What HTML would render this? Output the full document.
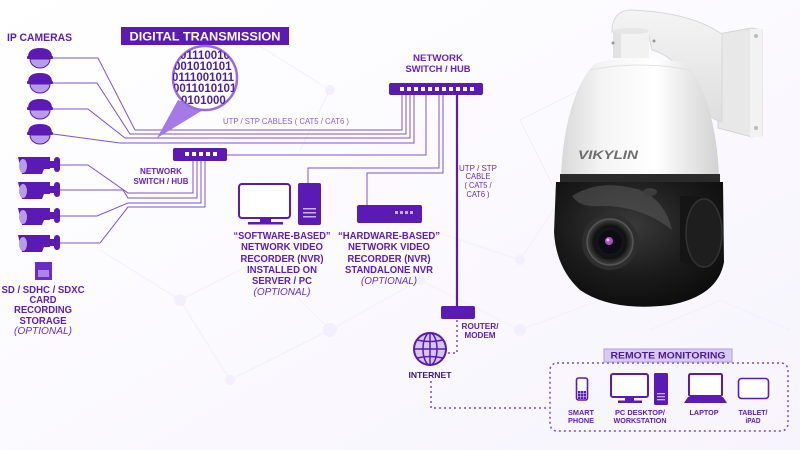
<!DOCTYPE html>
<html><head><meta charset="utf-8"><style>
html,body{margin:0;padding:0;background:#fff;}
svg{display:block;}
text{font-family:"Liberation Sans",Arial,sans-serif;}
</style></head><body>
<svg width="800" height="450" viewBox="0 0 800 450" xmlns="http://www.w3.org/2000/svg">
<defs>
<linearGradient id="domeG" x1="0" x2="1" y1="0" y2="0">
<stop offset="0" stop-color="#d8d8d8"/><stop offset="0.25" stop-color="#f4f4f4"/><stop offset="0.6" stop-color="#ffffff"/><stop offset="1" stop-color="#d2d2d2"/>
</linearGradient>
<linearGradient id="armG" x1="0" x2="0" y1="0" y2="1">
<stop offset="0" stop-color="#f4f4f4"/><stop offset="1" stop-color="#dedede"/>
</linearGradient>
<radialGradient id="blackG" cx="0.45" cy="0.35" r="0.7">
<stop offset="0" stop-color="#3a3a3a"/><stop offset="0.6" stop-color="#1a1a1a"/><stop offset="1" stop-color="#0c0c0c"/>
</radialGradient>
<radialGradient id="lensG" cx="0.5" cy="0.5" r="0.5">
<stop offset="0" stop-color="#2a2a3a"/><stop offset="0.7" stop-color="#111"/><stop offset="1" stop-color="#444"/>
</radialGradient>
<linearGradient id="bgG" x1="0" x2="1" y1="0" y2="1">
<stop offset="0" stop-color="#ffffff"/><stop offset="1" stop-color="#f7f4fd"/>
</linearGradient>
<clipPath id="magClip"><circle cx="205" cy="78" r="32"/></clipPath>
</defs>

<rect width="800" height="450" fill="url(#bgG)"/>
<!-- faint background network -->
<g stroke="#f4effc" stroke-width="1" fill="none">
<path d="M180 300 L260 260 L330 330 L420 280 L520 330 L600 300"/>
<path d="M100 250 L180 300 L230 380 L330 330"/>
<path d="M430 230 L520 260 L560 200 L520 120 L600 80"/>
<path d="M250 40 L330 90 L300 150"/>
<path d="M650 330 L720 300 L790 330"/>
</g>
<g fill="#f4effc">
<circle cx="180" cy="300" r="6"/><circle cx="260" cy="260" r="5"/><circle cx="330" cy="330" r="7"/><circle cx="420" cy="280" r="5"/><circle cx="520" cy="330" r="6"/><circle cx="230" cy="380" r="5"/><circle cx="520" cy="260" r="5"/><circle cx="330" cy="90" r="5"/>
</g>

<!-- cables -->
<g stroke="#7d55cc" stroke-width="1" fill="none">
<polyline points="53,58 98,58 135,130 402,130 402,95"/>
<polyline points="53,83 97,83 130,134 406,134 406,95"/>
<polyline points="53,109 88,109 125,138 410,138 410,95"/>
<polyline points="53,134 120,143 414,143 414,95"/>
<polyline points="227,155 426,155 426,95"/>
<polyline points="439,95 439,168 308,168 308,183"/>
<polyline points="443,95 443,173 367,173 367,205"/>
<polyline points="60,165 88,165 128,193 193,193 193,161"/>
<polyline points="60,190 123,190 128,198 197,198 197,161"/>
<polyline points="60,216 97,216 128,203 201,203 201,161"/>
<polyline points="60,243 100,243 128,207 205,207 205,161"/>
</g>
<line x1="457" y1="95" x2="457" y2="306" stroke="#5a1ab3" stroke-width="2.2"/>

<!-- dotted links -->
<g stroke="#7a4ad0" stroke-width="1.5" fill="none" stroke-dasharray="2,3">
<polyline points="457,320 457,353 448,353"/>
<polyline points="431,381 431,408 548,408"/>
<rect x="550" y="363" width="238" height="68" rx="7"/>
</g>

<!-- IP CAMERAS -->
<text x="7" y="41" font-size="11" font-weight="bold" fill="#5b1db5" textLength="65" lengthAdjust="spacingAndGlyphs">IP CAMERAS</text>

<!-- dome cameras -->
<g>
<g transform="translate(0,0)">
<path d="M28,57 Q28,48 40,48 Q52,48 52,57 Z" fill="#5a1ab3"/><rect x="27" y="56" width="26" height="3" rx="1" fill="#5a1ab3"/>
<path d="M30,59 A10,9 0 0 0 50,59 Z" fill="#b89ce9" stroke="#5a1ab3" stroke-width="1"/>
</g>
<g transform="translate(0,25)">
<path d="M28,57 Q28,48 40,48 Q52,48 52,57 Z" fill="#5a1ab3"/><rect x="27" y="56" width="26" height="3" rx="1" fill="#5a1ab3"/>
<path d="M30,59 A10,9 0 0 0 50,59 Z" fill="#b89ce9" stroke="#5a1ab3" stroke-width="1"/>
</g>
<g transform="translate(0,51)">
<path d="M28,57 Q28,48 40,48 Q52,48 52,57 Z" fill="#5a1ab3"/><rect x="27" y="56" width="26" height="3" rx="1" fill="#5a1ab3"/>
<path d="M30,59 A10,9 0 0 0 50,59 Z" fill="#b89ce9" stroke="#5a1ab3" stroke-width="1"/>
</g>
<g transform="translate(0,76)">
<path d="M28,57 Q28,48 40,48 Q52,48 52,57 Z" fill="#5a1ab3"/><rect x="27" y="56" width="26" height="3" rx="1" fill="#5a1ab3"/>
<path d="M30,59 A10,9 0 0 0 50,59 Z" fill="#b89ce9" stroke="#5a1ab3" stroke-width="1"/>
</g>
</g>

<!-- bullet cameras -->
<g fill="#5a1ab3">
<g transform="translate(0,0)">
<path d="M18,157 L50,157 L50,169 L44,169 L42,174 L22,174 Z"/>
<ellipse cx="23" cy="166" rx="4" ry="7" fill="#b89ce9"/>
<rect x="49" y="161" width="6" height="7"/>
<rect x="54" y="157" width="6" height="15" rx="3"/>
</g>
<g transform="translate(0,25)">
<path d="M18,157 L50,157 L50,169 L44,169 L42,174 L22,174 Z"/>
<ellipse cx="23" cy="166" rx="4" ry="7" fill="#b89ce9"/>
<rect x="49" y="161" width="6" height="7"/>
<rect x="54" y="157" width="6" height="15" rx="3"/>
</g>
<g transform="translate(0,51)">
<path d="M18,157 L50,157 L50,169 L44,169 L42,174 L22,174 Z"/>
<ellipse cx="23" cy="166" rx="4" ry="7" fill="#b89ce9"/>
<rect x="49" y="161" width="6" height="7"/>
<rect x="54" y="157" width="6" height="15" rx="3"/>
</g>
<g transform="translate(0,78)">
<path d="M18,157 L50,157 L50,169 L44,169 L42,174 L22,174 Z"/>
<ellipse cx="23" cy="166" rx="4" ry="7" fill="#b89ce9"/>
<rect x="49" y="161" width="6" height="7"/>
<rect x="54" y="157" width="6" height="15" rx="3"/>
</g>
</g>

<!-- SD card -->
<path d="M35,262 L52,262 L52,280 L35,280 Z" fill="#6a2cc4"/>
<rect x="38" y="270" width="11" height="7" fill="#a987e6"/>
<g font-size="10" font-weight="bold" fill="#5b1db5" text-anchor="middle" lengthAdjust="spacingAndGlyphs">
<text x="43" y="293" textLength="83" lengthAdjust="spacingAndGlyphs">SD / SDHC / SDXC</text>
<text x="43" y="303" textLength="27" lengthAdjust="spacingAndGlyphs">CARD</text>
<text x="43" y="313" textLength="58" lengthAdjust="spacingAndGlyphs">RECORDING</text>
<text x="43" y="324" textLength="47" lengthAdjust="spacingAndGlyphs">STORAGE</text>
<text x="43" y="334" font-style="italic" font-weight="normal" fill="#6a2cc4" textLength="58" lengthAdjust="spacingAndGlyphs">(OPTIONAL)</text>
</g>

<!-- Digital transmission banner -->
<rect x="121" y="27" width="168" height="18" fill="#5a1ab3"/>
<text x="205" y="40.5" font-size="12" font-weight="bold" fill="#fff" text-anchor="middle" textLength="151" lengthAdjust="spacingAndGlyphs">DIGITAL TRANSMISSION</text>

<!-- magnifier -->
<path d="M178,100 L203,110 L157,138 Z" fill="#a57ae6"/>
<circle cx="205" cy="78" r="32" fill="#fff" stroke="#9a6ae0" stroke-width="2.5"/>
<g clip-path="url(#magClip)" font-size="11.5" font-weight="bold" fill="#4b1fa0">
<text x="180" y="59">01110010</text>
<text x="174" y="70">001010101</text>
<text x="172" y="81">0111001011</text>
<text x="173" y="92">0011010101</text>
<text x="181" y="104">0101000</text>
</g>

<!-- UTP label -->
<text x="286" y="124" font-size="8.5" fill="#8a60d8" text-anchor="middle" textLength="126" lengthAdjust="spacingAndGlyphs">UTP / STP CABLES ( CAT5 / CAT6 )</text>

<!-- small switch -->
<rect x="173" y="148" width="54" height="13" rx="2" fill="#5a1ab3"/>
<g fill="#fff"><rect x="185" y="152" width="4" height="4"/><rect x="192" y="152" width="4" height="4"/><rect x="199" y="152" width="4" height="4"/><rect x="206" y="152" width="4" height="4"/><rect x="213" y="152" width="4" height="4"/></g>
<g font-size="8.5" font-weight="bold" fill="#6a22c4" text-anchor="middle">
<text x="161" y="174" textLength="42" lengthAdjust="spacingAndGlyphs">NETWORK</text>
<text x="161" y="184" textLength="55" lengthAdjust="spacingAndGlyphs">SWITCH / HUB</text>
</g>

<!-- top switch -->
<rect x="389" y="83" width="94" height="12" rx="2" fill="#5a1ab3"/>
<g fill="#fff">
<rect x="400" y="87" width="4" height="4"/><rect x="407" y="87" width="4" height="4"/><rect x="414" y="87" width="4" height="4"/><rect x="421" y="87" width="4" height="4"/><rect x="428" y="87" width="4" height="4"/><rect x="435" y="87" width="4" height="4"/><rect x="442" y="87" width="4" height="4"/><rect x="449" y="87" width="4" height="4"/><rect x="456" y="87" width="4" height="4"/><rect x="463" y="87" width="4" height="4"/><rect x="470" y="87" width="4" height="4"/>
</g>
<g font-size="9.5" font-weight="bold" fill="#6a22c4" text-anchor="middle">
<text x="438" y="61" textLength="50" lengthAdjust="spacingAndGlyphs">NETWORK</text>
<text x="438" y="72" textLength="65" lengthAdjust="spacingAndGlyphs">SWITCH / HUB</text>
</g>

<!-- vertical cable label -->
<g font-size="8" fill="#6a2cc4" text-anchor="middle">
<text x="478" y="171" textLength="38" lengthAdjust="spacingAndGlyphs">UTP / STP</text>
<text x="478" y="179" textLength="25" lengthAdjust="spacingAndGlyphs">CABLE</text>
<text x="478" y="188" textLength="27" lengthAdjust="spacingAndGlyphs">( CAT5 /</text>
<text x="478" y="197" textLength="23" lengthAdjust="spacingAndGlyphs">CAT6 )</text>
</g>

<!-- software NVR -->
<rect x="239" y="184" width="51" height="34" rx="3" fill="#fff" stroke="#5a1ab3" stroke-width="2"/>
<rect x="260" y="218" width="11" height="4" fill="#5a1ab3"/>
<rect x="248" y="222" width="35" height="2.5" fill="#5a1ab3"/>
<rect x="298" y="183" width="23" height="42" rx="2" fill="#5a1ab3"/>
<g fill="#c9b2f2"><rect x="303" y="208" width="13" height="1.5"/><rect x="303" y="212" width="13" height="1.5"/><rect x="303" y="216" width="13" height="1.5"/></g>
<g font-size="10" font-weight="bold" fill="#5b1db5" text-anchor="middle">
<text x="282" y="239" textLength="97" lengthAdjust="spacingAndGlyphs">“SOFTWARE-BASED”</text>
<text x="282" y="250" textLength="82" lengthAdjust="spacingAndGlyphs">NETWORK VIDEO</text>
<text x="282" y="262" textLength="83" lengthAdjust="spacingAndGlyphs">RECORDER (NVR)</text>
<text x="282" y="273" textLength="70" lengthAdjust="spacingAndGlyphs">INSTALLED ON</text>
<text x="282" y="284" textLength="60" lengthAdjust="spacingAndGlyphs">SERVER / PC</text>
<text x="282" y="295" font-style="italic" font-weight="normal" fill="#6a2cc4" textLength="57" lengthAdjust="spacingAndGlyphs">(OPTIONAL)</text>
</g>

<!-- hardware NVR -->
<rect x="357" y="205" width="65" height="18" rx="2" fill="#5a1ab3"/>
<g fill="#c9b2f2"><rect x="395" y="211" width="3" height="3"/><rect x="400" y="211" width="3" height="3"/><rect x="405" y="211" width="3" height="3"/><rect x="410" y="211" width="3" height="3"/></g>
<g font-size="10" font-weight="bold" fill="#5b1db5" text-anchor="middle">
<text x="389" y="239" textLength="102" lengthAdjust="spacingAndGlyphs">“HARDWARE-BASED”</text>
<text x="389" y="250" textLength="82" lengthAdjust="spacingAndGlyphs">NETWORK VIDEO</text>
<text x="389" y="262" textLength="83" lengthAdjust="spacingAndGlyphs">RECORDER (NVR)</text>
<text x="389" y="273" textLength="88" lengthAdjust="spacingAndGlyphs">STANDALONE NVR</text>
<text x="389" y="284" font-style="italic" font-weight="normal" fill="#6a2cc4" textLength="56" lengthAdjust="spacingAndGlyphs">(OPTIONAL)</text>
</g>

<!-- router -->
<rect x="441" y="306" width="34" height="13" rx="2" fill="#5a1ab3"/>
<g font-size="8" font-weight="bold" fill="#5b1db5" text-anchor="middle">
<text x="480" y="329" textLength="37" lengthAdjust="spacingAndGlyphs">ROUTER/</text>
<text x="480" y="338" textLength="31" lengthAdjust="spacingAndGlyphs">MODEM</text>
</g>

<!-- globe -->
<circle cx="430" cy="349" r="16" fill="#d6c6f6" stroke="#5a1ab3" stroke-width="2"/>
<g stroke="#5a1ab3" stroke-width="1.5" fill="none">
<ellipse cx="430" cy="349" rx="7" ry="16"/>
<line x1="430" y1="333" x2="430" y2="365"/>
<line x1="414" y1="349" x2="446" y2="349"/>
<path d="M417,340 Q430,343 443,340"/>
<path d="M417,358 Q430,355 443,358"/>
</g>
<text x="430" y="378" font-size="8.5" font-weight="bold" fill="#3a1a80" text-anchor="middle" textLength="43" lengthAdjust="spacingAndGlyphs">INTERNET</text>

<!-- remote monitoring -->
<rect x="604" y="349" width="128" height="13" fill="#d9c9f6" stroke="#b49ae8" stroke-width="1"/>
<text x="668" y="358.5" font-size="9.5" font-weight="bold" fill="#4a1a9a" text-anchor="middle" textLength="115" lengthAdjust="spacingAndGlyphs">REMOTE MONITORING</text>

<!-- smartphone -->
<rect x="576.5" y="378" width="11" height="22" rx="2" fill="#fff" stroke="#5a1ab3" stroke-width="1.6"/>
<rect x="578" y="391" width="8" height="8" fill="#5a1ab3"/>
<g stroke="#d6c6f6" stroke-width="0.6"><line x1="578" y1="393.7" x2="586" y2="393.7"/><line x1="578" y1="396.3" x2="586" y2="396.3"/><line x1="580.7" y1="391" x2="580.7" y2="399"/><line x1="583.3" y1="391" x2="583.3" y2="399"/></g>
<!-- pc -->
<rect x="611" y="374" width="37" height="23" rx="2" fill="#fff" stroke="#5a1ab3" stroke-width="2"/>
<rect x="625" y="397" width="9" height="3.5" fill="#5a1ab3"/>
<rect x="618" y="400.5" width="24" height="2.5" fill="#5a1ab3"/>
<rect x="654" y="373" width="14" height="32" rx="1.5" fill="#5a1ab3"/>
<g fill="#c9b2f2"><rect x="657" y="393" width="8" height="1.3"/><rect x="657" y="396" width="8" height="1.3"/><rect x="657" y="399" width="8" height="1.3"/></g>
<!-- laptop -->
<rect x="689" y="374" width="33" height="22" rx="1.5" fill="#fff" stroke="#5a1ab3" stroke-width="2"/>
<path d="M688,397 L723,397 L727,403 L684,403 Z" fill="#5a1ab3"/>
<!-- tablet -->
<rect x="738.5" y="378.5" width="30" height="20" rx="3" fill="#fff" stroke="#5a1ab3" stroke-width="1.6"/>

<g font-size="7.5" font-weight="bold" fill="#5b1db5" text-anchor="middle">
<text x="581" y="415" textLength="26" lengthAdjust="spacingAndGlyphs">SMART</text>
<text x="581" y="423" textLength="26" lengthAdjust="spacingAndGlyphs">PHONE</text>
<text x="640" y="415" textLength="50" lengthAdjust="spacingAndGlyphs">PC DESKTOP/</text>
<text x="640" y="423" textLength="53" lengthAdjust="spacingAndGlyphs">WORKSTATION</text>
<text x="704" y="415" textLength="29" lengthAdjust="spacingAndGlyphs">LAPTOP</text>
<text x="753" y="415" textLength="29" lengthAdjust="spacingAndGlyphs">TABLET/</text>
<text x="753" y="423" textLength="15" lengthAdjust="spacingAndGlyphs">iPAD</text>
</g>

<!-- PTZ camera -->
<!-- wall plate -->
<path d="M718,34 L752,28 L762,30 L762,135 L752,137 L718,128 Z" fill="#e8e8e8" stroke="#d4d4d4" stroke-width="1"/>
<rect x="750" y="29" width="12" height="108" fill="#f2f2f2"/>
<circle cx="756" cy="36" r="2" fill="#bbb"/><circle cx="756" cy="128" r="2" fill="#bbb"/>
<!-- arm -->
<path d="M612,32 Q612,11 630,10 Q690,12 722,34 L722,122 Q705,118 695,95 Q680,58 652,50 L648,32 Z" fill="url(#armG)" stroke="#d8d8d8" stroke-width="1"/>
<!-- neck -->
<rect x="613" y="30" width="36" height="28" fill="#f2f2f2"/>
<rect x="613" y="30" width="8" height="28" fill="#e2e2e2"/>
<ellipse cx="631" cy="31" rx="18" ry="3" fill="#e6e6e6"/>
<circle cx="613" cy="43" r="1.5" fill="#999"/><circle cx="654" cy="41" r="1.5" fill="#999"/>
<!-- dome -->
<path d="M596,63 Q640,53 684,63 C704,80 717,125 719,176 L561,176 C563,125 576,80 596,63 Z" fill="url(#domeG)"/>
<path d="M590,70 Q640,60 690,70" fill="none" stroke="#e2e2e2" stroke-width="1"/>
<text x="578" y="159" font-size="12" font-weight="bold" font-style="italic" fill="#6e6e6e" textLength="60" lengthAdjust="spacingAndGlyphs">VIKYLIN</text>
<!-- dark band -->
<path d="M560,174 L720,174 L720,182 L560,182 Z" fill="#2a2a2a"/>
<!-- black housing -->
<path d="M556,182 L723,182 L724,262 Q718,296 670,305 Q612,312 580,290 Q556,268 554,232 Z" fill="url(#blackG)"/>
<path d="M572,196 Q600,178 640,190 Q665,200 672,230 Q640,205 600,206 Q580,208 572,196 Z" fill="#5a5a5a" opacity="0.55"/>
<ellipse cx="650" cy="192" rx="7" ry="4" fill="#3d3d3d"/>
<!-- side cap -->
<path d="M680,196 L700,196 L700,270 L680,262 Z" fill="#151515"/>
<ellipse cx="704" cy="233" rx="18" ry="34" fill="#1e1e1e" stroke="#333" stroke-width="1.5"/>
<!-- lens -->
<circle cx="610" cy="242" r="28" fill="#2e2e2e"/>
<circle cx="610" cy="242" r="23" fill="url(#lensG)" stroke="#555" stroke-width="1.5"/>
<circle cx="610" cy="242" r="12" fill="#0c0c14"/>
<circle cx="609" cy="241" r="4" fill="#b04cc8"/>
<circle cx="608" cy="240" r="1.5" fill="#f0c0ff"/>
</svg>
</body></html>
